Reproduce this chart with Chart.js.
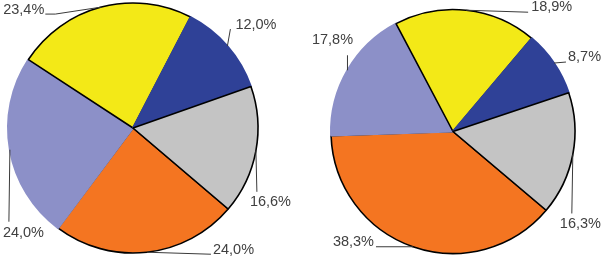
<!DOCTYPE html>
<html>
<head>
<meta charset="utf-8">
<script src="https://cdn.jsdelivr.net/npm/chart.js@4/dist/chart.umd.min.js"></script>
<style>
  html, body { margin: 0; padding: 0; background: #ffffff; }
  #wrap { position: relative; width: 603px; height: 260px; overflow: hidden; }
  #c1 { position: absolute; left: 0; top: 0; }
  #c2 { position: absolute; left: 300px; top: 0; }
</style>
</head>
<body>
<div id="wrap">
  <canvas id="c1" width="300" height="260"></canvas>
  <canvas id="c2" width="303" height="260"></canvas>
</div>
<script>
// Segments listed clockwise, starting with the orange slice
const categories = ['Orange', 'Lavender', 'Yellow', 'Blue', 'Gray'];
const leftValues  = [24.0, 24.0, 23.4, 12.0, 16.6];
const rightValues = [38.3, 17.8, 18.9, 8.7, 16.3];

// styling
const fillColors   = ['#f47521', '#8c90c8', '#f3e917', '#2f4197', '#c4c4c4'];
const borderColors = ['#000000', '#8c90c8', '#000000', '#2f4197', '#000000'];
const borderWidths = [1.6, 2, 1.6, 2, 1.6];

// leader-line layouts (offsets from the slice's outer mid point), same order as categories
const leftLeaders = [
  { pts: [[64, 2]], text: [66, -2], align: 'left' },
  { pts: [[-1, 72]], text: [-7, 83], align: 'left' },
  { pts: [[-46, 7], [-56, 7]], text: [-57, 3], align: 'right' },
  { pts: [[3, -17]], text: [8, -21], align: 'left' },
  { pts: [[1, 41]], text: [-6, 51], align: 'left' }
];
const rightLeaders = [
  { pts: [[-37, 0]], text: [-39, -5], align: 'right' },
  { pts: [[0, -15]], text: [-15, -30], align: 'center' },
  { pts: [[62, 2]], text: [65, -3], align: 'left' },
  { pts: [[12, -1]], text: [14, -6], align: 'left' },
  { pts: [[-1, 59]], text: [-13, 70], align: 'left' }
];

const fmt = v => v.toFixed(1).replace('.', ',') + '%';

const leaderPlugin = {
  id: 'leaders',
  afterDatasetsDraw(chart, args, opts) {
    const ctx = chart.ctx;
    const meta = chart.getDatasetMeta(0);
    const values = chart.data.datasets[0].data;
    ctx.save();
    ctx.font = '14.5px "Liberation Sans", Arial, sans-serif';
    ctx.textBaseline = 'middle';
    meta.data.forEach((el, i) => {
      const p = el.getProps(['x', 'y', 'startAngle', 'endAngle', 'outerRadius'], true);
      const mid = (p.startAngle + p.endAngle) / 2;
      const x0 = p.x + Math.cos(mid) * p.outerRadius;
      const y0 = p.y + Math.sin(mid) * p.outerRadius;
      const L = opts.layout[i];
      ctx.beginPath();
      ctx.strokeStyle = '#3a3a3a';
      ctx.lineWidth = 1;
      ctx.moveTo(x0, y0);
      L.pts.forEach(q => ctx.lineTo(x0 + q[0], y0 + q[1]));
      ctx.stroke();
      ctx.fillStyle = '#404040';
      ctx.textAlign = L.align;
      ctx.fillText(fmt(values[i]), x0 + L.text[0], y0 + L.text[1]);
    });
    ctx.restore();
  }
};

function makePie(id, values, rotation, radius, padding, layout) {
  return new Chart(document.getElementById(id), {
    type: 'pie',
    data: {
      labels: categories,
      datasets: [{
        data: values,
        backgroundColor: fillColors,
        borderColor: borderColors,
        borderWidth: borderWidths
      }]
    },
    options: {
      responsive: false,
      animation: false,
      devicePixelRatio: 1,
      rotation: rotation,
      radius: radius,
      layout: { padding: padding },
      plugins: {
        legend: { display: false },
        tooltip: { enabled: false },
        leaders: { layout: layout }
      }
    },
    plugins: [leaderPlugin]
  });
}

makePie('c1', leftValues, 130.4, 125, { left: 0, right: 34, top: 0, bottom: 4 }, leftLeaders);
makePie('c2', rightValues, 130.2, 122, { left: 3, right: 0, top: 3, bottom: 0 }, rightLeaders);
</script>
</body>
</html>
